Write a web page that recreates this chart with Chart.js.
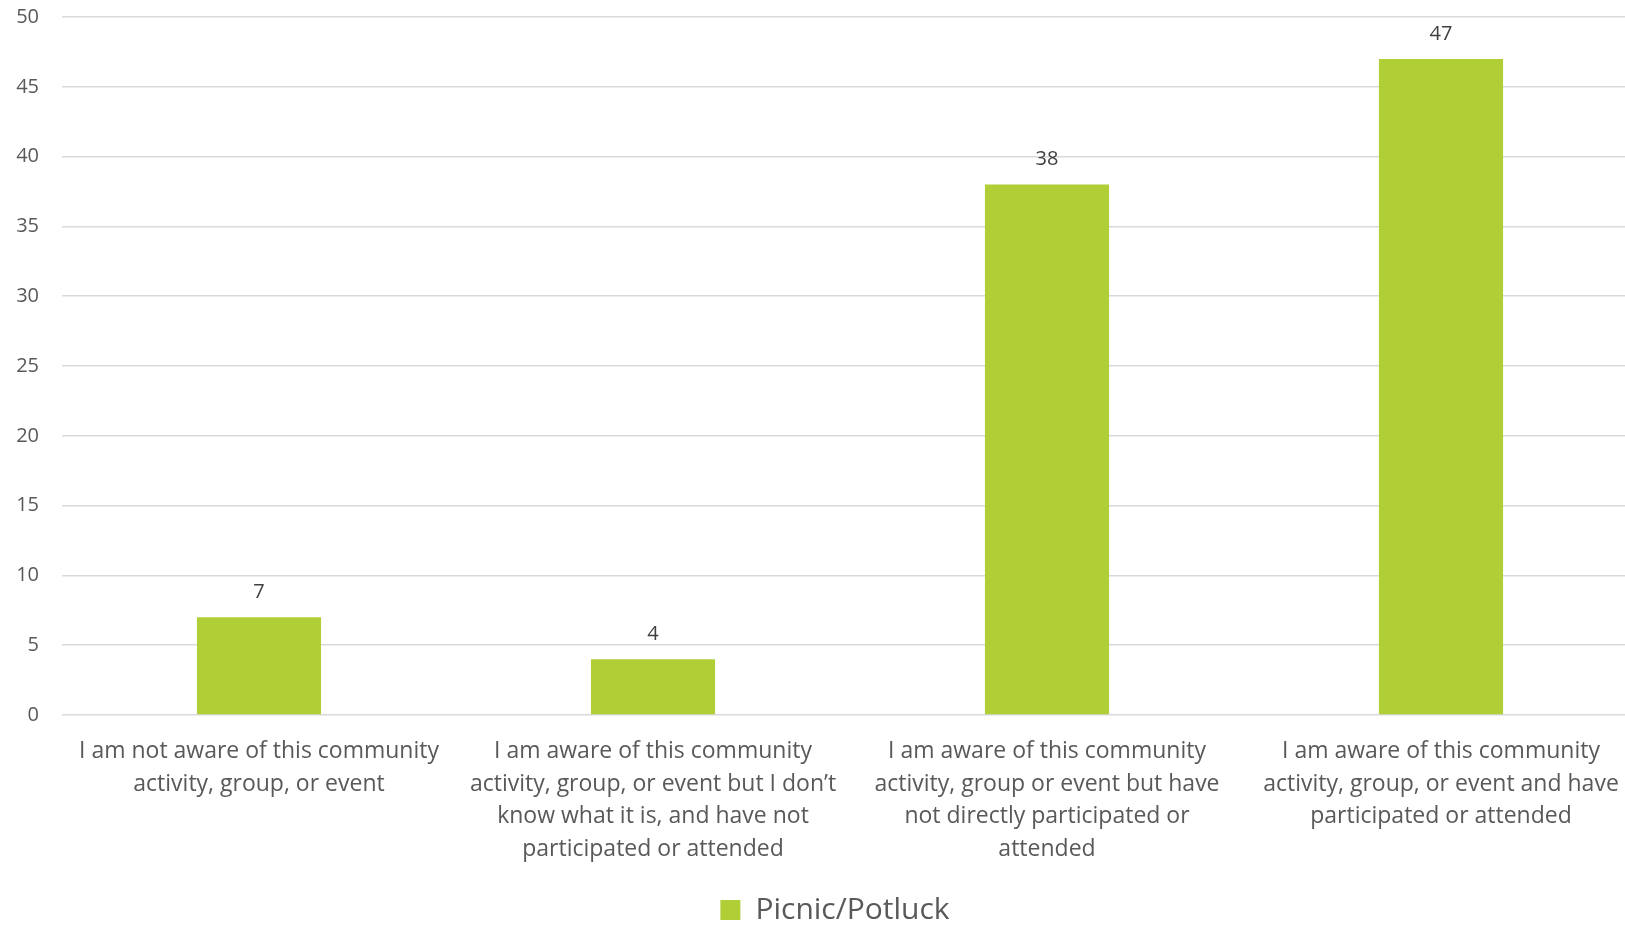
<!DOCTYPE html>
<html>
<head>
<meta charset="utf-8">
<script src="https://cdn.jsdelivr.net/npm/chart.js@4.4.1/dist/chart.umd.min.js"></script>
<style>
  html, body { margin:0; padding:0; background:#fff; overflow:hidden; }
  #wrap { width:1638px; height:926px; }
</style>
</head>
<body>
<div id="wrap"><canvas id="c"></canvas></div>
<script>
// categories (multi-line, as wrapped in the original)
const categories = [
  ["I am not aware of this community", "activity, group, or event"],
  ["I am aware of this community", "activity, group, or event but I don\u2019t", "know what it is, and have not", "participated or attended"],
  ["I am aware of this community", "activity, group or event but have", "not directly participated or", "attended"],
  ["I am aware of this community", "activity, group, or event and have", "participated or attended"]
];
const seriesName = "Picnic/Potluck";
const values = [7, 4, 38, 47];
const yTicks = [0, 5, 10, 15, 20, 25, 30, 35, 40, 45, 50];

const FONT = "'Open Sans', 'Noto Sans', sans-serif";

// labels above bars
const valueLabels = {
  id: 'valueLabels',
  afterDatasetsDraw(chart) {
    const ctx = chart.ctx;
    ctx.save();
    ctx.font = "20px " + FONT;
    ctx.fillStyle = "#404040";
    ctx.textAlign = "center";
    ctx.textBaseline = "middle";
    chart.getDatasetMeta(0).data.forEach((bar, i) => {
      ctx.fillText(String(values[i]), bar.x, bar.y - 25);
    });
    ctx.restore();
  }
};

// the original's legend sits a bit right of centre and lower down
const legendShift = {
  id: 'legendShift',
  afterLayout(chart) {
    const lg = chart.legend;
    lg.left += 16; lg.right += 16;
    lg.top += 9; lg.bottom += 9;
  }
};

new Chart(document.getElementById('c'), {
  type: 'bar',
  data: {
    labels: categories,
    datasets: [{
      label: seriesName,
      data: values,
      backgroundColor: '#b0cf37',
      categoryPercentage: 1,
      barPercentage: 0.315
    }]
  },
  options: {
    responsive: true,
    maintainAspectRatio: false,
    animation: false,
    layout: { padding: { left: 0, top: 17, right: 0, bottom: 0 } },
    plugins: {
      legend: {
        position: 'bottom',
        labels: {
          font: { family: FONT, size: 30 },
          color: '#595959',
          boxWidth: 20, boxHeight: 20,
          padding: 10
        }
      },
      tooltip: { enabled: false }
    },
    scales: {
      x: {
        grid: { display: false },
        border: { display: false },
        ticks: {
          color: '#595959',
          font: { family: FONT, size: 23, lineHeight: 1.42 },
          padding: 12,
          maxRotation: 0, autoSkip: false
        },
        afterFit: s => { s.height = 161; }
      },
      y: {
        min: 0, max: 50,
        afterBuildTicks: s => { s.ticks = yTicks.map(v => ({ value: v })); },
        grid: { color: '#d9d9d9', lineWidth: 1.5, drawTicks: false },
        border: { display: false },
        ticks: {
          color: '#595959',
          font: { family: FONT, size: 20 },
          padding: 23
        },
        afterFit: s => { s.width = 62; s.paddingTop = 0; s.paddingBottom = 0; }
      }
    }
  },
  plugins: [valueLabels, legendShift]
});
</script>
</body>
</html>
